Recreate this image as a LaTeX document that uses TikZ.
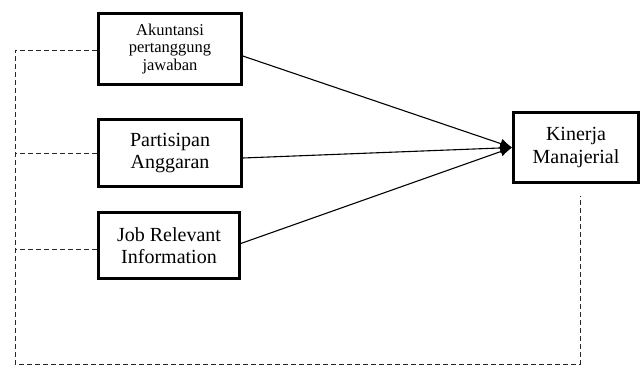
\documentclass[tikz,border=0pt]{standalone}
\usepackage{fontspec}
\setmainfont{Liberation Serif}
\usetikzlibrary{arrows.meta}
\tikzstyle{arrow} = [line width=1.1pt,-{Latex[length=12pt,width=10pt]}]
\tikzstyle{link} = [line width=1pt, black!85, dash pattern=on 5pt off 3pt]
\tikzstyle{varbox} = [rectangle, draw=black, line width=2.6pt, align=center, inner sep=2pt]
\tikzstyle{bigtext} = [font=\fontsize{20}{22.5}\selectfont]
\tikzstyle{smalltext} = [font=\fontsize{16.5}{17.5}\selectfont]

\begin{document}
\begin{tikzpicture}[x=1pt,y=-1pt]
	\useasboundingbox (0,0) rectangle (642,367);
		\node (akt) [varbox, smalltext, minimum width=143pt, minimum height=71pt] at (170,49) {Akuntansi\\pertanggung\\jawaban};
		\node (part) [varbox, bigtext, minimum width=143pt, minimum height=67pt] at (170,153) {Partisipan\\Anggaran};
		\node (jri) [varbox, bigtext, minimum width=141pt, minimum height=66pt] at (169,245.5) {Job Relevant\\Information};
		\node (kin) [varbox, bigtext, minimum width=125pt, minimum height=70pt] at (576,147.5) {Kinerja\\Manajerial};
		% moderating path
		\coordinate (lt) at (15,50);
		\coordinate (lb) at (15,364);
		\coordinate (rb) at (580,364);
		\coordinate (rt) at (580,196);
		\draw [link] (akt.west |- lt) -- (lt) -- (lb) -- (rb) -- (rt);
		\draw [link] (part.west) -- (part.west -| lt);
		\draw [link] ([yshift=-4pt]jri.west) -- ([yshift=-4pt]jri.west -| lt);
		% direct effects
		\draw [arrow] ([yshift=-7pt]akt.east) -- (kin.west);
		\draw [arrow] ([yshift=-5pt]part.east) -- (kin.west);
		\draw [arrow] ([yshift=2pt]jri.east) -- (kin.west);
	\end{tikzpicture}
\end{document}
